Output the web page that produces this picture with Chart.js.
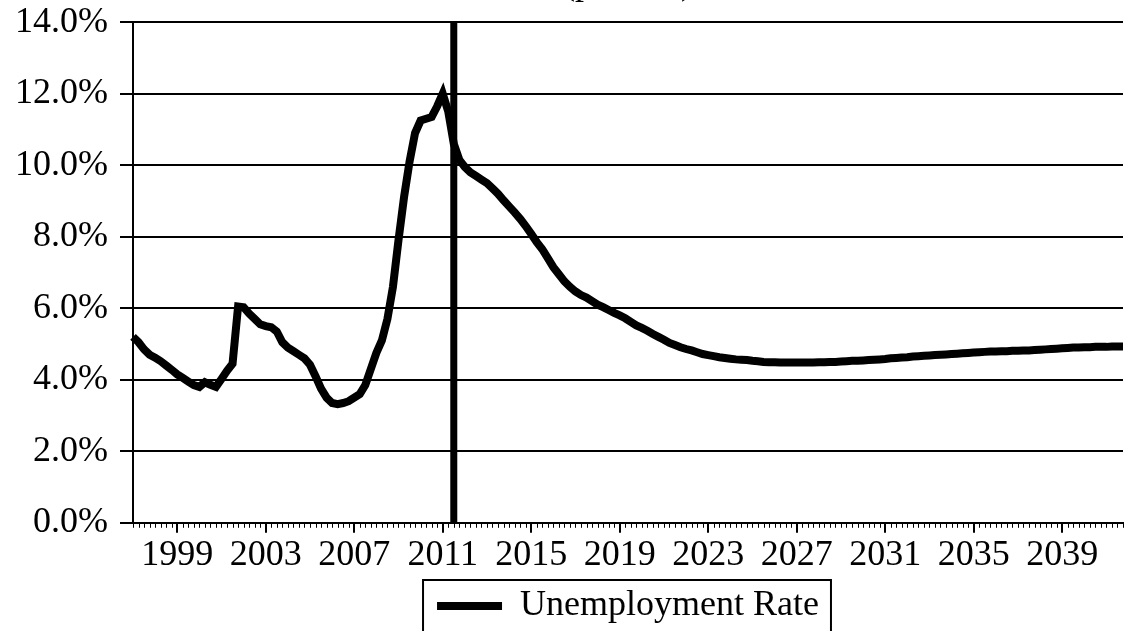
<!DOCTYPE html>
<html>
<head>
<meta charset="utf-8">
<script src="https://cdn.jsdelivr.net/npm/chart.js@4.4.1/dist/chart.umd.min.js"></script>
<style>
  html, body { margin: 0; padding: 0; background: #fff; }
  #wrap { width: 1126px; height: 631px; overflow: hidden; position: relative; }
  #chart { position: absolute; left: 0; top: -40px; }
</style>
</head>
<body>
<div id="wrap"><canvas id="chart" width="1126" height="674"></canvas></div>
<script>
// unemployment rate chart, quarterly 1997Q1 - 2041Q4

var firstYear = 1997;
var lastYear = 2041;
var labelEveryYears = 4;      // 1999, 2003, 2007 ...
var firstLabelYear = 1999;
var markerQuarter = '2011Q3'; // forecast start line

var quarters = [];
for (var y = firstYear; y <= lastYear; y++) {
    for (var q = 1; q <= 4; q++) quarters.push(y + 'Q' + q);
}

// percent
var unemploymentRate = [
    5.20, 5.05, 4.85, 4.70, 4.62, 4.52, 4.40, 4.28,
    4.15, 4.05, 3.95, 3.85, 3.80, 3.93, 3.86, 3.80,
    4.02, 4.25, 4.45, 6.05, 6.03, 5.85, 5.70, 5.55,
    5.50, 5.47, 5.35, 5.05, 4.90, 4.80, 4.70, 4.60,
    4.42, 4.10, 3.75, 3.50, 3.35, 3.32, 3.35, 3.40,
    3.50, 3.60, 3.85, 4.30, 4.75, 5.10, 5.70, 6.60,
    7.90, 9.10, 10.10, 10.90, 11.25, 11.30, 11.35, 11.65,
    12.00, 11.50, 10.60, 10.15, 9.95, 9.80, 9.70, 9.60,
    9.50, 9.35, 9.20, 9.02, 8.85, 8.68, 8.50, 8.30,
    8.08, 7.85, 7.65, 7.40, 7.15, 6.95, 6.75, 6.60,
    6.47, 6.37, 6.30, 6.20, 6.10, 6.03, 5.95, 5.87,
    5.80, 5.72, 5.62, 5.52, 5.45, 5.37, 5.28, 5.20,
    5.12, 5.03, 4.97, 4.91, 4.86, 4.82, 4.77, 4.72,
    4.69, 4.66, 4.63, 4.61, 4.59, 4.57, 4.56, 4.55,
    4.53, 4.52, 4.50, 4.49, 4.49, 4.48, 4.48, 4.48,
    4.48, 4.48, 4.48, 4.48, 4.49, 4.49, 4.50, 4.50,
    4.51, 4.52, 4.53, 4.53, 4.54, 4.55, 4.56, 4.57,
    4.58, 4.60, 4.61, 4.62, 4.63, 4.65, 4.66, 4.67,
    4.68, 4.69, 4.70, 4.71, 4.72, 4.73, 4.74, 4.75,
    4.76, 4.77, 4.78, 4.79, 4.79, 4.80, 4.80, 4.81,
    4.81, 4.82, 4.82, 4.83, 4.84, 4.85, 4.86, 4.87,
    4.88, 4.89, 4.90, 4.90, 4.91, 4.91, 4.92, 4.92,
    4.92, 4.93, 4.93, 4.93
];

var yMin = 0, yMax = 14, yStep = 2;

var serif = 'Liberation Serif, Times New Roman, serif';

function isMajor(i) {
    var lbl = quarters[i];
    if (!lbl || lbl.slice(4) !== 'Q1') return false;
    return (parseInt(lbl.slice(0, 4)) - firstLabelYear) % labelEveryYears === 0;
}

// minor quarter ticks, forecast line, legend frame
var extras = {
    id: 'extras',
    afterDatasetsDraw: function (chart) {
        var ctx = chart.ctx, area = chart.chartArea;
        var x = chart.scales.x.getPixelForValue(quarters.indexOf(markerQuarter));
        ctx.save();
        ctx.strokeStyle = '#000';
        ctx.lineWidth = 7;
        ctx.beginPath();
        ctx.moveTo(x, area.top);
        ctx.lineTo(x, area.bottom);
        ctx.stroke();
        ctx.restore();
    },
    afterDraw: function (chart) {
        var ctx = chart.ctx, area = chart.chartArea, xs = chart.scales.x;
        ctx.save();
        ctx.strokeStyle = '#000';
        ctx.lineWidth = 1;
        for (var i = 0; i < quarters.length; i++) {
            var px = Math.round(xs.getPixelForTick(i)) + 0.5;
            ctx.beginPath();
            ctx.moveTo(px, area.bottom);
            ctx.lineTo(px, area.bottom + 5);
            ctx.stroke();
        }
        var hb = chart.legend.legendHitBoxes[0];
        if (hb) {
            ctx.lineWidth = 2;
            ctx.strokeRect(hb.left - 14, chart.legend.top + 2, hb.width + 26, 200);
        }
        ctx.restore();
    }
};

var ctx = document.getElementById('chart').getContext('2d');

var chart = new Chart(ctx, {
    type: 'line',
    data: {
        labels: quarters,
        datasets: [{
            label: 'Unemployment Rate',
            data: unemploymentRate,
            borderColor: '#000',
            backgroundColor: '#000',
            borderWidth: 8,
            pointRadius: 0,
            tension: 0,
            fill: false
        }]
    },
    options: {
        responsive: false,
        animation: false,
        devicePixelRatio: 1,
        layout: { padding: { left: 0, right: 3, top: 0, bottom: 0 } },
        scales: {
            x: {
                type: 'category',
                offset: false,
                border: { display: true, color: '#000', width: 2 },
                grid: {
                    display: true,
                    drawOnChartArea: false,
                    drawTicks: true,
                    tickLength: 10,
                    lineWidth: 2,
                    tickColor: function (c) { return isMajor(c.index) ? '#000' : 'rgba(0,0,0,0)'; }
                },
                ticks: {
                    autoSkip: false,
                    maxRotation: 0,
                    minRotation: 0,
                    padding: 1,
                    color: '#000',
                    font: { family: serif, size: 36 },
                    callback: function (v, i) { return isMajor(i) ? quarters[i].slice(0, 4) : ''; }
                }
            },
            y: {
                min: yMin,
                max: yMax,
                border: { display: true, color: '#000', width: 2 },
                grid: { color: '#000', lineWidth: 2, tickLength: 13 },
                ticks: {
                    stepSize: yStep,
                    padding: 12,
                    color: '#000',
                    font: { family: serif, size: 36 },
                    callback: function (v) { return v.toFixed(1) + '%'; }
                },
                afterFit: function (scale) { scale.width = 133; }
            }
        },
        plugins: {
            title: {
                display: true,
                text: '(percent)',
                fullSize: false,
                color: '#000',
                font: { family: serif, size: 36, weight: 'normal' },
                padding: { top: 3, bottom: 16 }
            },
            legend: {
                position: 'bottom',
                fullSize: false,
                labels: {
                    color: '#000',
                    font: { family: serif, size: 36 },
                    usePointStyle: true,
                    pointStyle: 'line',
                    pointStyleWidth: 65,
                    padding: 10
                }
            },
            tooltip: { enabled: false }
        }
    },
    plugins: [extras]
});
</script>
</body>
</html>
